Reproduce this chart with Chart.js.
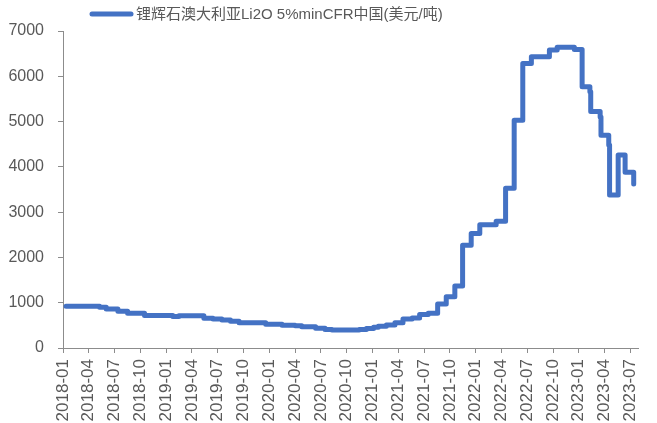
<!DOCTYPE html>
<html>
<head>
<meta charset="utf-8">
<script src="https://cdn.jsdelivr.net/npm/chart.js@4.4.0/dist/chart.umd.min.js"></script>
<style>
html, body { margin: 0; padding: 0; background: #fff; overflow: hidden; }
#wrap { width: 657px; height: 423px; position: relative; }
</style>
</head>
<body>
<div id="wrap"><canvas id="chart"></canvas></div>
<script>
// 系列名
const seriesLabel = '锂辉石澳大利亚Li2O 5%minCFR中国(美元/吨)';

// 价格变动日期（每个值从该日起生效）
const priceDates = [
    '2018-01-12', '2018-05-09', '2018-06-02', '2018-07-13', '2018-08-17', '2018-10-16',
    '2019-01-25', '2019-02-16', '2019-05-13', '2019-06-15', '2019-07-16', '2019-08-16',
    '2019-09-16', '2019-12-19', '2020-02-16', '2020-04-01', '2020-04-25', '2020-06-13',
    '2020-07-16', '2020-08-10', '2020-11-15', '2020-12-10', '2021-01-05', '2021-01-22',
    '2021-02-20', '2021-03-20', '2021-04-18', '2021-05-20', '2021-06-16', '2021-07-16',
    '2021-08-19', '2021-09-19', '2021-10-19', '2021-11-16', '2021-12-16', '2022-01-16',
    '2022-03-13', '2022-04-16', '2022-05-16', '2022-06-16', '2022-07-16', '2022-09-19',
    '2022-10-16', '2022-12-16', '2023-01-13', '2023-02-10', '2023-02-13', '2023-03-16',
    '2023-03-19', '2023-04-16', '2023-04-19', '2023-05-19', '2023-06-13', '2023-07-13'
];

// 美元/吨
const priceValues = [
    920, 900, 860, 810, 770, 720,
    695, 710, 655, 640, 620, 590,
    560, 525, 505, 490, 470, 435,
    410, 400, 410, 430, 460, 480,
    510, 560, 640, 660, 740, 770,
    970, 1130, 1370, 2270, 2530, 2720,
    2800, 3530, 5030, 6280, 6430, 6580,
    6640, 6590, 5770, 5660, 5220, 5100,
    4700, 4480, 3380, 4260, 3880, 3620
];

// 横轴刻度
const tickLabels = [
    '2018-01', '2018-04', '2018-07', '2018-10', '2019-01', '2019-04', '2019-07', '2019-10',
    '2020-01', '2020-04', '2020-07', '2020-10', '2021-01', '2021-04', '2021-07', '2021-10',
    '2022-01', '2022-04', '2022-07', '2022-10', '2023-01', '2023-04', '2023-07'
];

const axisColor = '#8c8c8c';
const textColor = '#595959';
const lineColor = '#4472C4';

// 日期 -> 自2018-01起的月份序号
function monthIndex(s) {
    const p = s.split('-').map(Number);
    return (p[0] - 2018) * 12 + (p[1] - 1) + ((p[2] || 1) - 1) / 31;
}

const points = priceDates.map(function(d, i) {
    return { x: monthIndex(d), y: priceValues[i] };
});

// 图例（线 + 文字）
const legendLine = {
    id: 'legendLine',
    afterDraw(chart) {
        const ds = chart.data.datasets[0];
        const ctx = chart.ctx;
        ctx.save();
        ctx.strokeStyle = ds.borderColor;
        ctx.lineWidth = 5;
        ctx.lineCap = 'round';
        ctx.beginPath();
        ctx.moveTo(92, 14);
        ctx.lineTo(131, 14);
        ctx.stroke();
        ctx.fillStyle = textColor;
        ctx.font = '15px "Liberation Sans", "Noto Sans CJK SC", sans-serif';
        ctx.textBaseline = 'middle';
        ctx.fillText(ds.label, 136, 15);
        ctx.restore();
    }
};

new Chart(document.getElementById('chart'), {
    type: 'line',
    data: {
        datasets: [{
            label: seriesLabel,
            data: points,
            borderColor: lineColor,
            backgroundColor: lineColor,
            borderWidth: 5,
            stepped: 'before',
            pointRadius: 0,
            borderJoinStyle: 'round',
            borderCapStyle: 'round',
            fill: false
        }]
    },
    options: {
        responsive: true,
        maintainAspectRatio: false,
        animation: false,
        devicePixelRatio: 1,
        layout: { padding: { top: 31, right: 15, left: 0, bottom: 0 } },
        plugins: {
            legend: { display: false },
            tooltip: { enabled: false }
        },
        scales: {
            x: {
                type: 'linear',
                min: 0,
                max: 67,
                afterFit: function(scale) { scale.height = 75; },
                afterBuildTicks: function(scale) {
                    scale.ticks = tickLabels.map(function(l) { return { value: monthIndex(l) }; });
                },
                grid: { display: true, drawOnChartArea: false, drawTicks: true, tickLength: 5, color: axisColor },
                border: { display: true, color: axisColor, width: 1 },
                ticks: {
                    autoSkip: false,
                    maxRotation: 90,
                    minRotation: 90,
                    padding: 6,
                    color: textColor,
                    font: { family: '"Liberation Sans", Arial, sans-serif', size: 17 },
                    callback: function(value, index) { return tickLabels[index]; }
                }
            },
            y: {
                min: 0,
                max: 7000,
                afterFit: function(scale) { scale.width = 63; },
                grid: { display: true, drawOnChartArea: false, drawTicks: true, tickLength: 5, color: axisColor },
                border: { display: true, color: axisColor, width: 1 },
                ticks: {
                    stepSize: 1000,
                    padding: 14,
                    color: textColor,
                    font: { family: '"Liberation Sans", Arial, sans-serif', size: 16 },
                    callback: function(value) { return String(value); }
                }
            }
        }
    },
    plugins: [legendLine]
});
</script>
</body>
</html>
